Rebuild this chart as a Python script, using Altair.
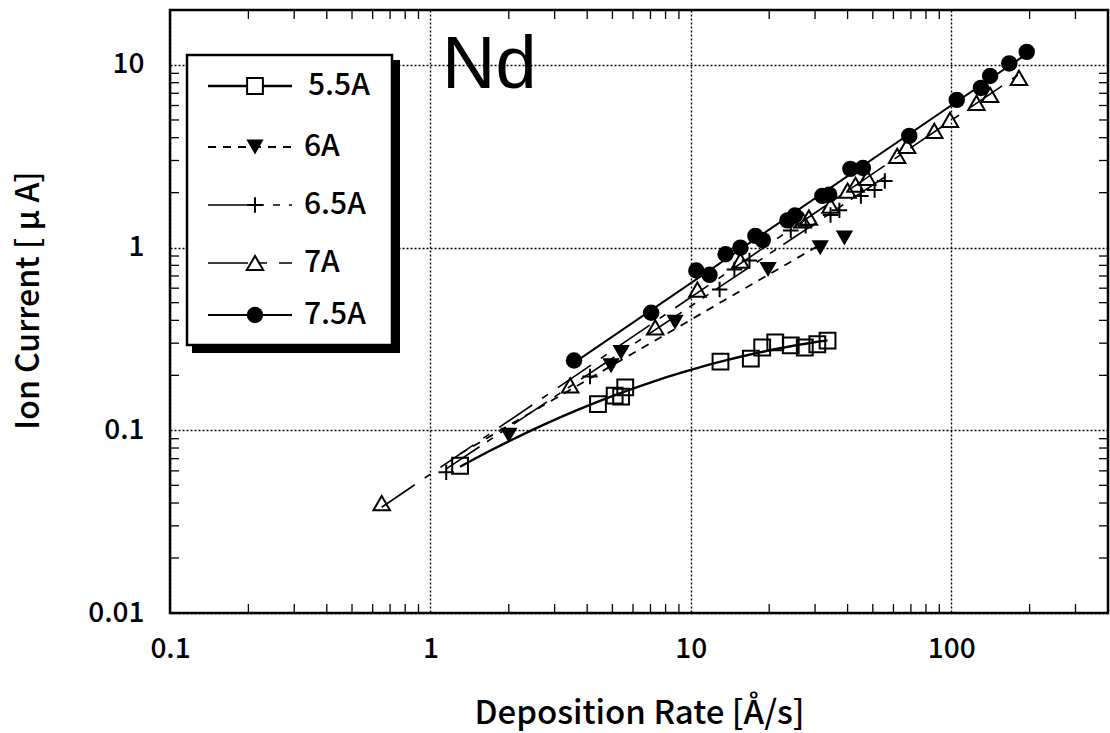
import math
import altair as alt
import pandas as pd

# ---------------- data ----------------
series = ["5.5A", "6A", "6.5A", "7A", "7.5A"]

rate_55 = [1.30, 4.4, 5.1, 5.4, 5.6, 13.0, 17.0, 18.8, 21.1, 24.2, 27.4, 30.6, 33.5]
ion_55 = [0.064, 0.139, 0.155, 0.153, 0.172, 0.238, 0.247, 0.284, 0.303, 0.292, 0.284, 0.296, 0.310]

rate_60 = [2.0, 4.94, 5.4, 8.7, 19.8, 31.4, 38.9]
ion_60 = [0.094, 0.226, 0.267, 0.39, 0.76, 1.0, 1.13]

rate_65 = [1.15, 4.1, 12.9, 14.7, 16.8, 24.2, 27.6, 34.4, 37.2, 45.0, 50.8, 55.6]
ion_65 = [0.059, 0.197, 0.59, 0.76, 0.85, 1.24, 1.32, 1.51, 1.60, 1.92, 2.07, 2.32]

rate_70 = [0.65, 3.44, 7.3, 10.6, 15.5, 26.9, 28.4, 34.4, 40.0, 42.9, 47.6, 62.0, 67.7,
           86.1, 98.9, 125, 141, 182]
ion_70 = [0.040, 0.176, 0.366, 0.59, 0.85, 1.41, 1.46, 1.70, 2.05, 2.21, 2.41, 3.18, 3.61,
          4.36, 5.0, 6.2, 6.86, 8.5]

rate_75 = [3.56, 7.04, 10.5, 11.8, 13.6, 15.5, 17.7, 18.9, 23.5, 25.1, 32.0, 34.0, 41.0,
           45.8, 69.0, 105, 130, 141, 167, 195]
ion_75 = [0.241, 0.44, 0.75, 0.71, 0.92, 1.0, 1.16, 1.10, 1.41, 1.50, 1.92, 1.95, 2.70,
          2.73, 4.09, 6.44, 7.49, 8.70, 10.2, 11.8]

# fitted-curve ranges (deposition rate) per series
fit_lo = [1.30, 1.30, 1.15, 0.65, 3.5]
fit_hi = [33.5, 33.0, 56.0, 185.0, 200.0]

x_tick_labels = [0.1, 1, 10, 100]
y_tick_labels = [0.01, 0.1, 1, 10]
x_minor = [0.2, 0.3, 0.4, 0.5, 0.6, 0.7, 0.8, 0.9,
           2, 3, 4, 5, 6, 7, 8, 9,
           20, 30, 40, 50, 60, 70, 80, 90,
           200, 300]
y_minor = [0.02, 0.03, 0.04, 0.05, 0.06, 0.07, 0.08, 0.09,
           0.2, 0.3, 0.4, 0.5, 0.6, 0.7, 0.8, 0.9,
           2, 3, 4, 5, 6, 7, 8, 9]

rates = [rate_55, rate_60, rate_65, rate_70, rate_75]
ions = [ion_55, ion_60, ion_65, ion_70, ion_75]

# ---------------- styling ----------------
W, H = 938, 603
FONT = "Noto Sans CJK JP"
WEIGHT = 500
PLUS = "M-1,0L1,0M0,-1L0,1"
shapes = ["square", "triangle-down", PLUS, "triangle-up", "circle"]
filled = [False, True, False, False, True]
sizes = [250, 300, 240, 270, 270]
dashes = [None, [8, 7], [40, 9, 7, 9, 7, 9], [40, 12, 7, 12], None]
widths = [2.4, 1.8, 1.6, 1.6, 2.0]
methods = ["poly", "linear", "linear", "linear", "linear"]

xs = alt.Scale(type="log", domain=[0.1, 400])
ys = alt.Scale(type="log", domain=[0.01, 20])

x_axis = alt.Axis(values=x_tick_labels, format="~g", grid=True, gridColor="black",
                  gridDash=[2, 2], gridWidth=1.4, gridOpacity=1, ticks=False, tickSize=0,
                  domain=False, labelFont=FONT, labelFontSize=28, labelFontWeight=WEIGHT,
                  labelColor="black",
                  labelPadding=22, labelFlush=False, labelOverlap=False,
                  title="Deposition Rate [Å/s]", titleFont=FONT, titleFontSize=33,
                  titleFontWeight=WEIGHT, titleColor="black", titleY=100,
                  titleBaseline="middle")
y_axis = alt.Axis(values=y_tick_labels, format="~g", grid=True, gridColor="black",
                  gridDash=[2, 2], gridWidth=1.4, gridOpacity=1, ticks=False, tickSize=0,
                  domain=False, labelFont=FONT, labelFontSize=28, labelFontWeight=WEIGHT,
                  labelColor="black",
                  labelPadding=26, labelFlush=False, labelOverlap=False,
                  title="Ion Current [ μ A]", titleFont=FONT, titleFontSize=32,
                  titleFontWeight=WEIGHT, titleColor="black", titleX=-142, titleY=290,
                  titleAlign="center", titleBaseline="middle", titleAngle=270)


def X(field):
    return alt.X(field, scale=xs, axis=x_axis)


def Y(field):
    return alt.Y(field, scale=ys, axis=y_axis)


layers = []

# frame minor ticks (inward)
dfx = pd.DataFrame({"v": x_minor})
dfy = pd.DataFrame({"v": y_minor})
tick_len = 9
layers.append(alt.Chart(dfx).mark_rule(color="black", strokeWidth=1.3).encode(
    x=X("v:Q"), y=alt.value(H - tick_len), y2=alt.value(H)))
layers.append(alt.Chart(dfx).mark_rule(color="black", strokeWidth=1.3).encode(
    x=X("v:Q"), y=alt.value(0), y2=alt.value(tick_len)))
layers.append(alt.Chart(dfy).mark_rule(color="black", strokeWidth=1.3).encode(
    y=Y("v:Q"), x=alt.value(0), x2=alt.value(tick_len)))
layers.append(alt.Chart(dfy).mark_rule(color="black", strokeWidth=1.3).encode(
    y=Y("v:Q"), x=alt.value(W - tick_len), x2=alt.value(W)))

# fitted curves
for i, name in enumerate(series):
    df = pd.DataFrame({"rate": rates[i], "ion": ions[i]})
    reg = dict(method=methods[i],
               extent=[math.log10(fit_lo[i]), math.log10(fit_hi[i])])
    if methods[i] == "poly":
        reg["order"] = 2
    mk = dict(color="black", strokeWidth=widths[i], clip=True)
    if dashes[i]:
        mk["strokeDash"] = dashes[i]
    line = (alt.Chart(df)
            .transform_calculate(lx="log(datum.rate)/LN10", ly="log(datum.ion)/LN10")
            .transform_regression("lx", "ly", **reg)
            .transform_calculate(fx="pow(10, datum.lx)", fy="pow(10, datum.ly)")
            .mark_line(**mk)
            .encode(x=X("fx:Q"), y=Y("fy:Q")))
    layers.append(line)

# data points
for i, name in enumerate(series):
    df = pd.DataFrame({"rate": rates[i], "ion": ions[i]})
    mk = dict(shape=shapes[i], size=sizes[i], strokeWidth=2.0, opacity=1,
              filled=filled[i], color="black")
    layers.append(alt.Chart(df).mark_point(**mk).encode(x=X("rate:Q"), y=Y("ion:Q")))

# legend box with drop shadow
one = pd.DataFrame({"k": [0]})
layers.append(alt.Chart(one).mark_rect(color="black").encode(
    x=alt.value(22), x2=alt.value(230), y=alt.value(50), y2=alt.value(343)))
layers.append(alt.Chart(one).mark_rect(fill="white", stroke="black", strokeWidth=2.5).encode(
    x=alt.value(17), x2=alt.value(222), y=alt.value(45), y2=alt.value(335)))

row_y = [76, 137, 195, 253, 305]
text_x = [138, 134, 134, 134, 134]
for i, name in enumerate(series):
    lab = pd.DataFrame({"label": [name]})
    rk = dict(color="black", strokeWidth=widths[i])
    if dashes[i]:
        rk["strokeDash"] = dashes[i]
    layers.append(alt.Chart(lab).mark_rule(**rk).encode(
        x=alt.value(38), x2=alt.value(122), y=alt.value(row_y[i])))
    mk = dict(shape=shapes[i], size=sizes[i], strokeWidth=2.0, opacity=1,
              filled=filled[i], color="black")
    if not filled[i] and shapes[i] != PLUS:
        mk["fill"] = "white"
    layers.append(alt.Chart(lab).mark_point(**mk).encode(
        x=alt.value(85), y=alt.value(row_y[i])))
    layers.append(alt.Chart(lab).mark_text(align="left", baseline="middle", font=FONT,
                                           fontSize=30, fontWeight=WEIGHT,
                                           color="black").encode(
        x=alt.value(text_x[i]), y=alt.value(row_y[i]), text="label:N"))

# element label
layers.append(alt.Chart(pd.DataFrame({"t": ["Nd"]})).mark_text(
    align="left", baseline="alphabetic", font="Liberation Sans",
    fontSize=74, color="black").encode(x=alt.value(272), y=alt.value(78), text="t:N"))

chart = (alt.layer(*layers)
         .properties(width=W, height=H,
                     padding={"left": 170, "top": 10, "right": 2, "bottom": 120},
                     autosize=alt.AutoSizeParams(type="none"),
                     background="white")
         .configure_view(stroke="black", strokeWidth=2.5))

chart.save("out.html", embed_options={"renderer": "svg", "actions": False})
